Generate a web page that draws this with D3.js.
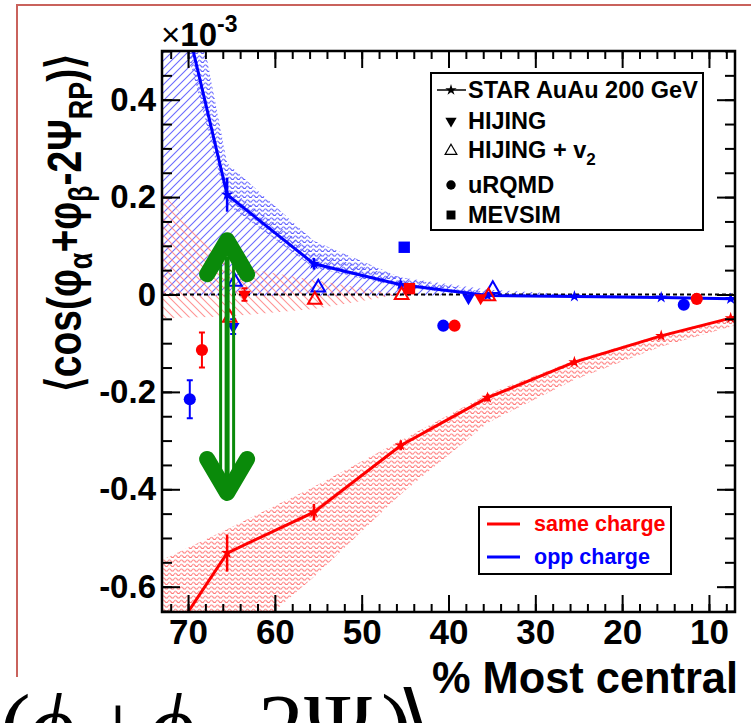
<!DOCTYPE html>
<html lang="en">
<head>
<meta charset="UTF-8">
<title>Charge correlator vs centrality</title>
<script src="https://cdn.jsdelivr.net/npm/d3@7"></script>
<style>
  body { margin: 0; background: #fff; }
  text { font-family: "Liberation Sans", Arial, sans-serif; font-weight: bold; }
</style>
</head>
<body>
<div id="chart"></div>
<script>
// ---- data (values in units of 1e-3) ----
var starCent = [75.5, 65.5, 55.5, 45.5, 35.5, 25.5, 15.5, 7.5, 2.5];
var sameVal  = [-0.80, -0.531, -0.447, -0.31, -0.212, -0.139, -0.085, -0.0485, -0.026];
var sameErr  = [0.05, 0.038, 0.017, 0.01, 0.008, 0.006, 0.005, 0.005, 0.005];
var oppVal   = [0.96, 0.205, 0.063, 0.02, -0.002, -0.004, -0.006, -0.009, -0.010];
var oppErr   = [0.05, 0.035, 0.012, 0.008, 0.006, 0.005, 0.005, 0.005, 0.005];

// systematic bands (wavy fill)
var sameSysLo = [-1.0, -0.734, -0.58, -0.41, -0.264, -0.175, -0.107, -0.066, -0.04];
var sameSysHi = [-0.566, -0.482, -0.395, -0.30, -0.205, -0.135, -0.082, -0.046, -0.024];
var oppSysLo  = [0.87, 0.185, 0.055, 0.015, -0.004, -0.006, -0.008, -0.011, -0.012];
var oppSysHi  = [1.19, 0.27, 0.11, 0.035, 0.004, 0.0, -0.004, -0.007, -0.008];
// hatched bands
var sameHatchLo = [-0.05, -0.045, -0.03, 0, 0, 0, 0, 0, 0];
var sameHatchHi = [0.26, 0.06, 0.03, 0, 0, 0, 0, 0, 0];
var oppHatchLo  = [-0.003, -0.003, -0.003, -0.003, 0, 0, 0, 0, 0];
var oppHatchHi  = [0.96, 0.22, 0.085, 0.035, 0.01, 0, 0, 0, 0];

// models
var hijingCent = [64.8, 63.5, 37.7, 36.3];
var hijingVal  = [-0.066, 0.0, -0.007, -0.007];
var hijingErr  = [0.015, 0.013, 0, 0];
var hijingChg  = ["opp", "same", "opp", "same"];

var hijingV2Cent = [64.6, 65.2, 55.0, 55.4, 45.4, 34.9, 35.4];
var hijingV2Val  = [0.026, -0.048, 0.014, -0.011, -0.001, 0.011, -0.004];
var hijingV2Chg  = ["opp", "same", "opp", "same", "same", "opp", "same"];

var urqmdCent = [69.8, 68.4, 40.6, 39.3, 12.9, 11.4];
var urqmdVal  = [-0.215, -0.114, -0.064, -0.064, -0.021, -0.009];
var urqmdErr  = [0.039, 0.036, 0, 0, 0, 0];
var urqmdChg  = ["opp", "same", "opp", "same", "opp", "same"];

var mevsimCent = [45.1, 44.5];
var mevsimVal  = [0.097, 0.012];
var mevsimChg  = ["opp", "same"];

var xMajor = [70, 60, 50, 40, 30, 20, 10];
var yMajor = [-0.6, -0.4, -0.2, 0, 0.2, 0.4];

var legendModels = ["STAR AuAu 200 GeV", "HIJING", "HIJING + v", "uRQMD", "MEVSIM"];
var legendCharges = ["same charge", "opp charge"];

// arrow annotation (centrality, value range)
var arrowCent = 65.5;
var arrowRange = [0.13, -0.426];

// ---- setup ----
var w = 751, h = 723;
var col = { same: "#ff0000", opp: "#0000ff" };

var svg = d3.select("#chart").append("svg")
    .attr("width", w).attr("height", h);

var x = d3.scaleLinear().domain([73, 7]).range([162, 735]);
var y = d3.scaleLinear().domain([0.5, -0.652]).range([51, 612]);

var defs = svg.append("defs");
defs.append("clipPath").attr("id", "plotClip")
    .append("rect").attr("x", 162).attr("y", 51).attr("width", 573).attr("height", 561);

function hatch(id, d, color) {
    var p = defs.append("pattern").attr("id", id)
        .attr("patternUnits", "userSpaceOnUse").attr("width", 8).attr("height", 8);
    p.append("path").attr("d", d).style("stroke", color).style("stroke-width", 1.1).style("fill", "none");
}
hatch("hatchBlue", "M-2,2 L2,-2 M0,8 L8,0 M6,10 L10,6", "#6b6bff");
hatch("hatchRed", "M-2,6 L2,10 M0,0 L8,8 M6,-2 L10,2", "#ff9494");

function wavy(id, color) {
    var p = defs.append("pattern").attr("id", id)
        .attr("patternUnits", "userSpaceOnUse").attr("width", 6).attr("height", 4.5);
    p.append("path").attr("d", "M0,3 Q1.5,0.6 3,3 T6,3")
        .style("stroke", color).style("stroke-width", 1).style("fill", "none");
}
wavy("wavyRed", "#ff7070");
wavy("wavyBlue", "#5050ff");

// outer frame (slide border)
svg.append("path").attr("d", "M17,677 L17,5 L751,5")
    .attr("fill", "none").attr("stroke", "#c9625c").attr("stroke-width", 2);

var plot = svg.append("g").attr("clip-path", "url(#plotClip)");

function band(lo, hi, fill) {
    var area = d3.area()
        .x(function(d, i) { return x(starCent[i]); })
        .y0(function(d, i) { return y(lo[i]); })
        .y1(function(d, i) { return y(hi[i]); });
    plot.append("path").datum(starCent).attr("d", area)
        .style("fill", fill).style("stroke", "none");
}
band(oppHatchLo, oppHatchHi, "url(#hatchBlue)");
band(sameHatchLo, sameHatchHi, "url(#hatchRed)");
band(sameSysLo, sameSysHi, "url(#wavyRed)");
band(oppSysLo, oppSysHi, "url(#wavyBlue)");

// zero line
plot.append("line").attr("x1", x(73)).attr("x2", x(7)).attr("y1", y(0)).attr("y2", y(0))
    .attr("stroke", "#000").attr("stroke-width", 2).attr("stroke-dasharray", "4,3");

// STAR lines with error bars and star markers
function starSeries(vals, errs, c) {
    var line = d3.line()
        .x(function(d, i) { return x(starCent[i]); })
        .y(function(d, i) { return y(vals[i]); });
    plot.append("path").datum(vals).attr("d", line)
        .attr("fill", "none").attr("stroke", c).attr("stroke-width", 3);
    plot.selectAll(null).data(vals).enter().append("line")
        .attr("x1", function(d, i) { return x(starCent[i]); })
        .attr("x2", function(d, i) { return x(starCent[i]); })
        .attr("y1", function(d, i) { return y(d - errs[i]); })
        .attr("y2", function(d, i) { return y(d + errs[i]); })
        .attr("stroke", c).attr("stroke-width", 2.5);
    plot.selectAll(null).data(vals).enter().append("path")
        .attr("d", d3.symbol().type(d3.symbolStar).size(45))
        .attr("transform", function(d, i) { return "translate(" + x(starCent[i]) + "," + y(d) + ")"; })
        .attr("fill", c);
}
starSeries(sameVal, sameErr, col.same);
starSeries(oppVal, oppErr, col.opp);

// model markers
function markers(cents, vals, errs, chg, type, size, rot, open) {
    if (errs) {
        plot.selectAll(null).data(vals).enter().append("line")
            .attr("x1", function(d, i) { return x(cents[i]); })
            .attr("x2", function(d, i) { return x(cents[i]); })
            .attr("y1", function(d, i) { return y(d - errs[i]); })
            .attr("y2", function(d, i) { return y(d + errs[i]); })
            .attr("stroke", function(d, i) { return col[chg[i]]; })
            .attr("stroke-width", 2);
        plot.selectAll(null).data(vals).enter().append("path")
            .attr("d", function(d, i) {
                if (!errs[i]) return "";
                var xx = x(cents[i]);
                return "M" + (xx - 3) + "," + y(d + errs[i]) + "h6M" + (xx - 3) + "," + y(d - errs[i]) + "h6";
            })
            .attr("stroke", function(d, i) { return col[chg[i]]; })
            .attr("stroke-width", 2);
    }
    plot.selectAll(null).data(vals).enter().append("path")
        .attr("d", d3.symbol().type(type).size(size))
        .attr("transform", function(d, i) {
            return "translate(" + x(cents[i]) + "," + y(d) + ") rotate(" + rot + ")";
        })
        .attr("fill", function(d, i) { return open ? "none" : col[chg[i]]; })
        .attr("stroke", function(d, i) { return open ? col[chg[i]] : "none"; })
        .attr("stroke-width", 2);
}
markers(hijingCent, hijingVal, hijingErr, hijingChg, d3.symbolTriangle, 70, 180, false);
markers(hijingV2Cent, hijingV2Val, null, hijingV2Chg, d3.symbolTriangle, 80, 0, true);
markers(urqmdCent, urqmdVal, urqmdErr, urqmdChg, d3.symbolCircle, 115, 0, false);
markers(mevsimCent, mevsimVal, null, mevsimChg, d3.symbolSquare, 130, 0, false);

// ---- axes ----
function minorRange(a, b, s) {
    var out = [];
    for (var v = a; v <= b + 1e-9; v += s) out.push(+v.toFixed(3));
    return out;
}
var xMinor = minorRange(8, 72, 2);
var yMinor = minorRange(-0.65, 0.5, 0.05);

function axisG(axis, tr) {
    var g = svg.append("g").attr("transform", tr).call(axis);
    g.select(".domain").remove();
    g.selectAll("line").attr("stroke", "#000").attr("stroke-width", 2);
    return g;
}
// minor ticks
axisG(d3.axisBottom(x).tickValues(xMinor).tickSize(-8).tickFormat(""), "translate(0,612)");
axisG(d3.axisTop(x).tickValues(xMinor).tickSize(-8).tickFormat(""), "translate(0,51)");
axisG(d3.axisLeft(y).tickValues(yMinor).tickSize(-10).tickFormat(""), "translate(162,0)");
axisG(d3.axisRight(y).tickValues(yMinor).tickSize(-10).tickFormat(""), "translate(735,0)");
// major ticks + labels
var xb = axisG(d3.axisBottom(x).tickValues(xMajor).tickSize(-17).tickPadding(7).tickFormat(d3.format("d")), "translate(0,612)");
axisG(d3.axisTop(x).tickValues(xMajor).tickSize(-17).tickFormat(""), "translate(0,51)");
var yl = axisG(d3.axisLeft(y).tickValues(yMajor).tickSize(-18).tickPadding(6)
    .tickFormat(function(d) { return d === 0 ? "0" : d3.format(".1f")(d).replace("−", "-"); }), "translate(162,0)");
axisG(d3.axisRight(y).tickValues(yMajor).tickSize(-18).tickFormat(""), "translate(735,0)");
xb.selectAll("text").attr("fill", "#000").style("font-size", "35px")
    .style("font-family", "Liberation Sans").style("font-weight", "bold");
yl.selectAll("text").attr("fill", "#000").style("font-size", "33px")
    .style("font-family", "Liberation Sans").style("font-weight", "bold");

// frame
svg.append("rect").attr("x", 162).attr("y", 51).attr("width", 573).attr("height", 561)
    .attr("fill", "none").attr("stroke", "#000").attr("stroke-width", 2.5);

// x10^-3
var ex = svg.append("text").attr("x", 161).attr("y", 46).style("font-size", "33px");
ex.append("tspan").style("font-weight", "normal").text("×");
ex.append("tspan").text("10");
ex.append("tspan").attr("dy", -14).style("font-size", "23px").text("-3");

// y title
var yt = svg.append("text").attr("transform", "translate(81,223) rotate(-90) scale(1,1.25)")
    .attr("text-anchor", "middle").style("font-size", "39px");
yt.append("tspan").text("⟨cos(φ");
yt.append("tspan").attr("dy", 9).style("font-size", "27px").text("α");
yt.append("tspan").attr("dy", -9).text("+φ");
yt.append("tspan").attr("dy", 9).style("font-size", "27px").text("β");
yt.append("tspan").attr("dy", -9).text("-2Ψ");
yt.append("tspan").attr("dy", 9).style("font-size", "27px").text("RP");
yt.append("tspan").attr("dy", -9).text(")⟩");

// x title
svg.append("text").attr("x", 432).attr("y", 693)
    .attr("textLength", 306).attr("lengthAdjust", "spacingAndGlyphs")
    .style("font-size", "45px").text("% Most central");

// ---- legend: models ----
var lg = svg.append("g");
lg.append("rect").attr("x", 431).attr("y", 73).attr("width", 272).attr("height", 157)
    .attr("fill", "#fff").attr("stroke", "#000").attr("stroke-width", 2);
var rowY = [90, 121, 151, 185, 215];
var rowBase = [98, 129, 158, 193, 223];
lg.append("line").attr("x1", 437).attr("x2", 466).attr("y1", rowY[0]).attr("y2", rowY[0])
    .attr("stroke", "#000").attr("stroke-width", 1.5);
var legSyms = [[d3.symbolStar, 40, 0, false], [d3.symbolTriangle, 55, 180, false],
               [d3.symbolTriangle, 60, 0, true], [d3.symbolCircle, 70, 0, false], [d3.symbolSquare, 80, 0, false]];
legSyms.forEach(function(s, i) {
    lg.append("path").attr("d", d3.symbol().type(s[0]).size(s[1]))
        .attr("transform", "translate(451," + rowY[i] + ") rotate(" + s[2] + ")")
        .attr("fill", s[3] ? "none" : "#000").attr("stroke", s[3] ? "#000" : "none").attr("stroke-width", 1.2);
    var t = lg.append("text").attr("x", 468).attr("y", rowBase[i]).style("font-size", "23.5px").text(legendModels[i]);
    if (i === 2) t.append("tspan").attr("dy", 7).style("font-size", "17px").text("2");
});

// ---- legend: charges ----
var lc = svg.append("g");
lc.append("rect").attr("x", 479).attr("y", 507).attr("width", 192).attr("height", 67)
    .attr("fill", "#fff").attr("stroke", "#000").attr("stroke-width", 2);
[col.same, col.opp].forEach(function(c, i) {
    var yy = [524, 557][i];
    lc.append("line").attr("x1", 487).attr("x2", 520).attr("y1", yy).attr("y2", yy)
        .attr("stroke", c).attr("stroke-width", 3);
    lc.append("text").attr("x", 534).attr("y", yy + 7).attr("fill", c)
        .style("font-size", "21.5px").text(legendCharges[i]);
});

// ---- green double arrow ----
var ax = x(arrowCent), aTop = y(arrowRange[0]), aBot = y(arrowRange[1]);
var ag = svg.append("g").attr("stroke", "#0a8a0a").attr("fill", "none");
ag.append("line").attr("x1", ax).attr("x2", ax).attr("y1", aTop + 25).attr("y2", aBot - 25).attr("stroke-width", 5);
ag.append("line").attr("x1", ax - 6.5).attr("x2", ax - 6.5).attr("y1", aTop + 30).attr("y2", aBot - 30).attr("stroke-width", 3);
ag.append("line").attr("x1", ax + 6.5).attr("x2", ax + 6.5).attr("y1", aTop + 30).attr("y2", aBot - 30).attr("stroke-width", 3);
ag.append("path").attr("d", "M" + (ax - 20) + "," + (aTop + 43) + "L" + ax + "," + (aTop + 9) + "L" + (ax + 20) + "," + (aTop + 43))
    .attr("stroke-width", 16).attr("stroke-linecap", "round").attr("stroke-linejoin", "round");
ag.append("path").attr("d", "M" + (ax - 20) + "," + (aBot - 43) + "L" + ax + "," + (aBot - 9) + "L" + (ax + 20) + "," + (aBot - 43))
    .attr("stroke-width", 16).attr("stroke-linecap", "round").attr("stroke-linejoin", "round");

// ---- large formula cut off at the bottom ----
var big = [["(", 0, "normal"], ["ϕ", 28, "italic"], ["+", 92, "normal"], ["ϕ", 148, "italic"],
           ["−", 205, "normal"], ["2Ψ", 258, "normal"], [")", 381, "normal"], ["⟩", 396, "normal"]];
big.forEach(function(b) {
    svg.append("text").attr("x", b[1]).attr("y", 757)
        .style("font-family", "'Liberation Serif', 'DejaVu Serif', serif")
        .style("font-weight", "normal").style("font-style", b[2])
        .style("font-size", "92px").text(b[0]);
});
</script>
</body>
</html>
